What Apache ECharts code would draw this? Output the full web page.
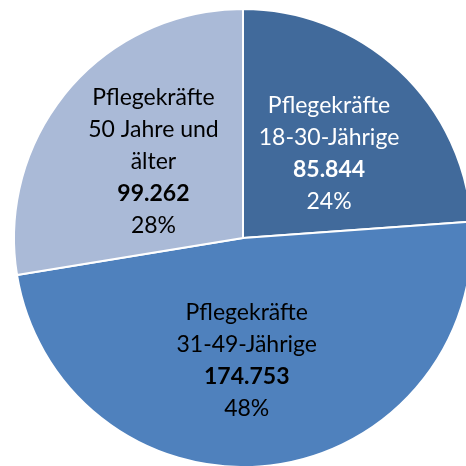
<!DOCTYPE html>
<html lang="de">
<head>
    <meta charset="UTF-8">
    <title>Pflegekräfte nach Alter</title>
    <style>
        html, body { margin: 0; padding: 0; background: #fff; }
    </style>
</head>
<body>
<div id="main" style="width: 466px; height: 466px;"></div>
<script src="https://cdn.jsdelivr.net/npm/echarts@6/dist/echarts.min.js"></script>
<script type="text/javascript">
    var groups = ['18-30-Jährige', '31-49-Jährige', '50 Jahre und\nälter'];
    var counts = [85844, 174753, 99262];
    // Prozente so wie im Original beschriftet
    var percents = [24, 48, 28];
    var colors = ['#416A9B', '#4F81BD', '#AABAD7'];
    var textColors = ['#ffffff', '#000000', '#000000'];

    var fmt = function (v) {
        return String(v).replace(/\B(?=(\d{3})+(?!\d))/g, '.');
    };

    var data = [];
    for (var i = 0; i < groups.length; i++) {
        data.push({
            name: groups[i],
            value: counts[i],
            itemStyle: { color: colors[i] },
            label: { color: textColors[i] }
        });
    }

    var chart = echarts.init(document.getElementById('main'));
    var option = {
        animation: false,
        series: [
            {
                type: 'pie',
                center: [243, 238],
                radius: 229,
                startAngle: 90,
                clockwise: true,
                data: data,
                itemStyle: {
                    borderColor: '#ffffff',
                    borderWidth: 2
                },
                label: {
                    show: true,
                    position: 'inside',
                    fontFamily: 'Lato',
                    fontSize: 23,
                    lineHeight: 32,
                    align: 'center',
                    formatter: function (p) {
                        return 'Pflegekräfte\n' + p.name + '\n{b|' + fmt(p.value) + '}\n' + percents[p.dataIndex] + '%';
                    },
                    rich: {
                        b: { fontWeight: 'bold', fontFamily: 'Lato', fontSize: 23, lineHeight: 32 }
                    }
                },
                labelLayout: function (params) {
                    if (params.dataIndex === 1) {
                        return { dx: -10, dy: 6 };
                    }
                    if (params.dataIndex === 0) {
                        return { dx: 6, dy: 2 };
                    }
                    return {};
                },
                labelLine: { show: false }
            }
        ]
    };
    chart.setOption(option);
</script>
</body>
</html>
